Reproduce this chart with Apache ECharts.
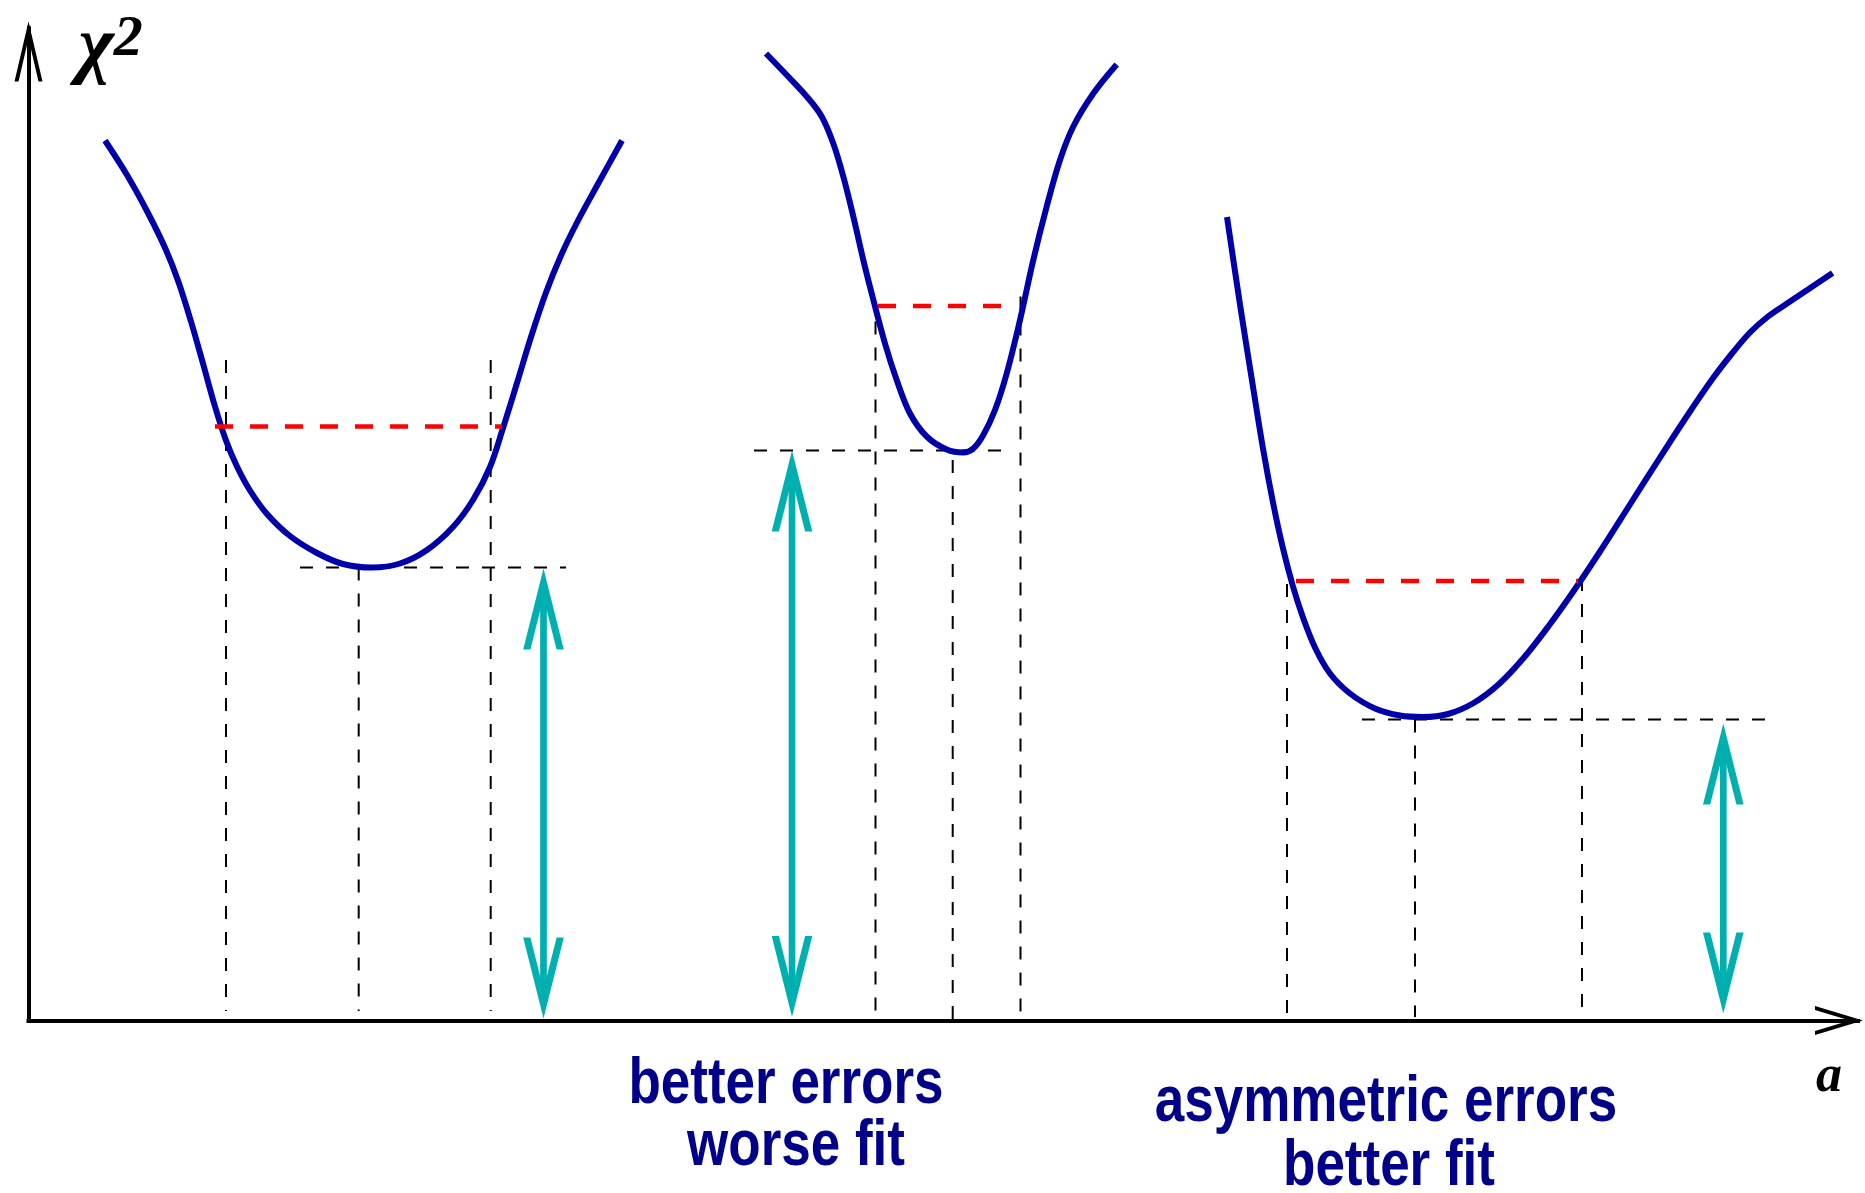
<!DOCTYPE html>
<html>
<head>
<meta charset="utf-8">
<script src="https://cdn.jsdelivr.net/npm/echarts@6/dist/echarts.min.js"></script>
<style>html,body{margin:0;padding:0;background:#fff}#c{width:1865px;height:1193px}</style>
</head>
<body>
<div id="c"></div>
<script>
// Sketch values (arbitrary units: parameter a horizontally, chi^2 vertically)
const curveLeft = [[105,880],[127,845.5],[148,807.5],[166,770.5],[178.5,738.5],[191,699],[203,657],[215,614],[226,580],[237,554],[250,530],[267,506.5],[290,484.5],[317,467.5],[343,456.5],[372,453],[400,457],[427,470.5],[453,493.5],[473,520.5],[490,553.5],[503,592.5],[517,637.5],[531,683.5],[546,728],[561,765],[577,798],[596,833],[622,880]];
const curveMiddle = [[766,967],[786.7,945.5],[806.7,924],[821.7,904],[833.3,877],[843.3,844],[853.3,804],[863.3,760.5],[871.7,727],[885,677],[896.7,640.5],[910,607],[926.7,584],[946.7,571],[963.3,568],[973.3,572],[983.3,585.5],[995,610.5],[1006.7,647],[1020,700.5],[1033.3,760.5],[1046.7,814],[1060,860.5],[1073.3,894],[1093.3,927],[1116.7,956]];
const curveRight = [[1227,803.5],[1240,716],[1252,640],[1263,572],[1273,518],[1283,472],[1293,434],[1303,403],[1315,373],[1330,347],[1350,327],[1375,312],[1400,305],[1423,303.5],[1448,306.5],[1473.6,317.5],[1499,336.5],[1524,363],[1549,395],[1574,430],[1600,469],[1630,516],[1660,563],[1688,606],[1712,641],[1732,667],[1750,688],[1768,704],[1787,717],[1808,731],[1832.6,747.5]];

// red dashed "minimum + 1" levels: [aStart, aEnd, chi2]
const errorLevels = [[215,502,594],[878,1018,714.5],[1296,1578,439.5]];
// black dashed minimum levels: [aStart, aEnd, chi2]
const minimumLevels = [[300,566,453],[754,1001.5,570],[1362,1772,301]];
// black dashed verticals (error bounds / best value): [a, chi2Top, chi2Bottom]
const boundLines = [[226,660.5,9.5],[358.7,453,9.5],[490.7,660.5,9.5],[875.5,699,0],[952.7,560.5,0],[1020.5,724,0],[1287,436.5,3.5],[1415,301,3.5],[1582,442.5,3.5]];
// cyan double arrows (chi2 of the minimum): [a, chi2Top, chi2Bottom]
const chi2Arrows = [[543.5,452,2],[792,570,3.5],[1723.3,297,7]];

// captions
const captionLines = ['better errors','worse fit','asymmetric errors','better fit'];
const captionX = [786,796,1386,1389];
const captionY = [-65,-126.5,-83,-146.5];

const BLUE = '#0000AA', RED = '#FF0000', CYAN = '#00AFAF', NAVY = '#000088';

const series = [];
minimumLevels.forEach(function (s) {
  series.push({type:'line', data:[[s[0],s[2]],[s[1],s[2]]], symbol:'none', silent:true, z:1,
    lineStyle:{color:'#000', width:2, type:[13,13]}});
});
boundLines.forEach(function (s) {
  series.push({type:'line', data:[[s[0],s[1]],[s[0],s[2]]], symbol:'none', silent:true, z:1,
    lineStyle:{color:'#000', width:2, type:[13,13]}});
});
[curveLeft, curveMiddle, curveRight].forEach(function (c) {
  series.push({type:'line', data:c, symbol:'none', smooth:0.35, silent:true, z:2,
    lineStyle:{color:BLUE, width:6}});
});
errorLevels.forEach(function (s) {
  series.push({type:'line', data:[[s[0],s[2]],[s[1],s[2]]], symbol:'none', silent:true, z:3,
    lineStyle:{color:RED, width:4.5, type:[18,17]}});
});
series.push({
  type:'custom', data:chi2Arrows, clip:false, silent:true, z:4,
  encode:{x:0, y:[1,2]},
  renderItem:function (params, api) {
    const x = api.value(0), top = api.value(1), bot = api.value(2);
    const pt = api.coord([x, top]), pb = api.coord([x, bot]);
    const H = 20.3, L = 81, W = 7.2;
    function head(p, dir) {
      const yL = p[1] + dir * L, ai = p[1] + dir * L * W / H;
      return {type:'polygon', shape:{points:[[p[0],p[1]],[p[0]+H,yL],[p[0]+H-W,yL],[p[0],ai],[p[0]-H+W,yL],[p[0]-H,yL]]},
        style:{fill:CYAN}};
    }
    return {type:'group', children:[
      {type:'line', shape:{x1:pt[0], y1:pt[1]+16, x2:pb[0], y2:pb[1]-16}, style:{stroke:CYAN, lineWidth:6.7}},
      head(pt, 1), head(pb, -1)
    ]};
  }
});
series.push({
  type:'custom', clip:false, silent:true, z:5,
  data: captionLines.map(function (t, i) { return {name:t, value:[captionX[i], captionY[i]]}; }),
  encode:{x:0, y:1},
  renderItem:function (params, api) {
    const p = api.coord([api.value(0), api.value(1)]);
    return {type:'text', x:p[0], y:p[1], scaleX:0.815, scaleY:1,
      style:{text:captionLines[params.dataIndex], x:0, y:0, align:'center', verticalAlign:'middle',
        font:'bold 65px "Liberation Sans", Arial, sans-serif', fill:NAVY}};
  }
});

const chart = echarts.init(document.getElementById('c'), null, {renderer:'canvas'});
chart.setOption({
  animation:false,
  backgroundColor:'#fff',
  grid:{left:28.5, right:7, top:27.5, bottom:172.5},
  xAxis:{
    type:'value', min:28.5, max:1858,
    axisLine:{show:true, onZero:false, lineStyle:{color:'#000', width:4, cap:'square'},
      symbol:['none','path://M14.5 0 L29 48 L25 48 L14.5 13.2 L4 48 L0 48 Z'],
      symbolSize:[29,48], symbolOffset:[0,-19]},
    axisTick:{show:false}, axisLabel:{show:false}, splitLine:{show:false},
    name:'a', nameLocation:'end', nameGap:-29,
    nameTextStyle:{fontFamily:'"Liberation Serif", "DejaVu Serif", serif', fontStyle:'italic', fontWeight:'bold',
      fontSize:52, color:'#000', align:'center', verticalAlign:'top', lineHeight:52, padding:[31,0,0,0]}
  },
  yAxis:{
    type:'value', min:0, max:993,
    axisLine:{show:true, onZero:false, lineStyle:{color:'#000', width:4},
      symbol:['none','path://M14 0 L28 60 L24 60 L14 17.1 L4 60 L0 60 Z'],
      symbolSize:[28,60], symbolOffset:[0,-24]},
    axisTick:{show:false}, axisLabel:{show:false}, splitLine:{show:false},
    name:'{c|χ}{s|2}', nameLocation:'end', nameGap:-22,
    nameTextStyle:{align:'left', verticalAlign:'middle', padding:[0,0,0,50],
      rich:{
        c:{fontFamily:'"Liberation Serif", "DejaVu Serif", serif', fontStyle:'italic', fontWeight:'bold', fontSize:76, lineHeight:76, color:'#000'},
        s:{fontFamily:'"Liberation Serif", "DejaVu Serif", serif', fontStyle:'italic', fontWeight:'bold', fontSize:58, lineHeight:26, color:'#000', verticalAlign:'top'}
      }}
  },
  series:series
});
</script>
</body>
</html>
